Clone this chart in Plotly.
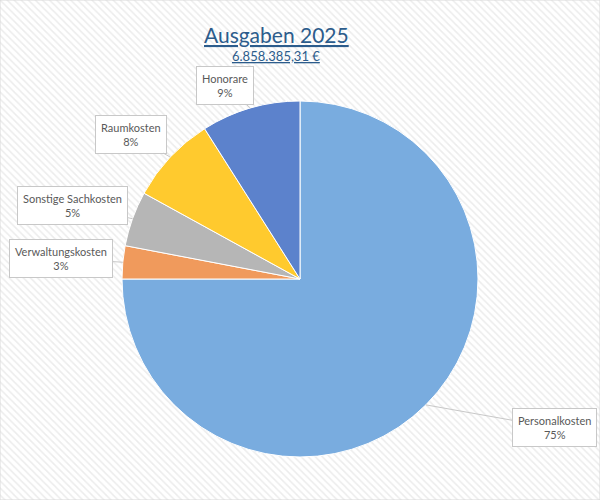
import math
import plotly.graph_objects as go

# Ausgaben 2025 (Anteile in %)
categories = ["Personalkosten", "Verwaltungskosten", "Sonstige Sachkosten", "Raumkosten", "Honorare"]
shares = [75, 3, 5, 8, 9]
colors = ["#79acdf", "#f09a5c", "#b6b6b6", "#ffca2e", "#5c82cc"]
title_text = "Ausgaben 2025"
total_text = "6.858.385,31 €"

# label box offsets (px) from the slice edge
label_offsets = [(129, 23), (-62, -4), (-60, -13), (-39, -23), (-25, -23)]

W, H = 600, 500
cx, cy, r = 300, 279, 178  # pie centre / radius in px

fig = go.Figure()

# hatched background
fig.add_trace(go.Bar(
    x=[0.5], y=[1], width=[1],
    marker=dict(color="white", line=dict(width=0),
                pattern=dict(shape="\\", fgcolor="#d9d9d9", bgcolor="white", size=5, solidity=0.3)),
    hoverinfo="skip", showlegend=False, xaxis="x", yaxis="y",
))

fig.add_trace(go.Pie(
    labels=categories, values=shares, sort=False, direction="clockwise", rotation=0,
    marker=dict(colors=colors, line=dict(color="#ffffff", width=1)),
    textinfo="none", hoverinfo="label+percent", showlegend=False,
    domain=dict(x=[(cx - r) / W, (cx + r) / W], y=[1 - (cy + r) / H, 1 - (cy - r) / H]),
))

# callout labels
total = sum(shares)
cum = 0
annotations = []
for name, v, (ox, oy) in zip(categories, shares, label_offsets):
    mid = (cum + v / 2) / total * 2 * math.pi
    cum += v
    px = cx + r * math.sin(mid)
    py = cy - r * math.cos(mid)
    annotations.append(dict(
        x=px / W, y=1 - py / H, xref="paper", yref="paper",
        ax=ox, ay=oy, text=f"{name}<br>{round(v / total * 100)}%",
        showarrow=True, arrowhead=0, arrowwidth=1, arrowcolor="#c8c8c8", standoff=0,
        bgcolor="white", bordercolor="#c8c8c8", borderwidth=1, borderpad=5,
        font=dict(family="Lato", size=11, color="#595959"), align="center",
    ))

annotations.append(dict(
    x=276 / W, y=1 - 34 / H, xref="paper", yref="paper", showarrow=False,
    xanchor="center", yanchor="middle",
    text=f"<u>{title_text}</u>", font=dict(family="Lato", size=21, color="#2c5c8c"),
))
annotations.append(dict(
    x=276 / W, y=1 - 56 / H, xref="paper", yref="paper", showarrow=False,
    xanchor="center", yanchor="middle",
    text=f"<u>{total_text}</u>", font=dict(family="Lato", size=13, color="#2c5c8c"),
))

fig.update_layout(
    width=W, height=H,
    margin=dict(l=0, r=0, t=0, b=0),
    paper_bgcolor="white", plot_bgcolor="white",
    xaxis=dict(domain=[0, 1], range=[0, 1], visible=False, fixedrange=True),
    yaxis=dict(domain=[0, 1], range=[0, 1], visible=False, fixedrange=True),
    bargap=0,
    annotations=annotations,
    shapes=[dict(type="rect", xref="paper", yref="paper", x0=0, y0=0, x1=1, y1=1,
                 line=dict(color="#d9d9d9", width=1))],
)

fig.write_html("out.html", config={"displayModeBar": False},
               post_script="document.body.style.margin='0px';")
